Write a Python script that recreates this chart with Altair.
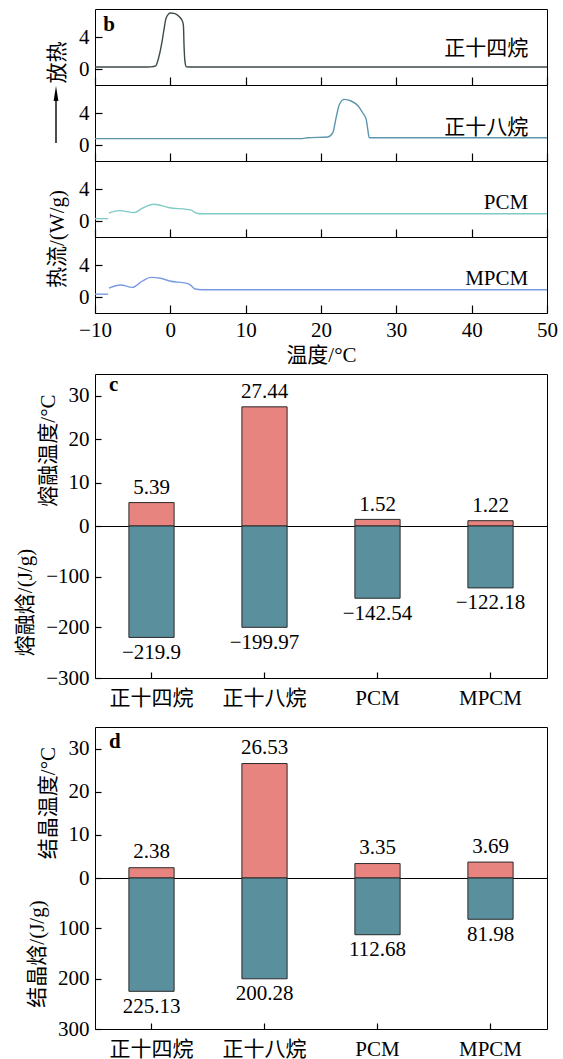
import altair as alt
import pandas as pd

# ---------------- data ----------------
# DSC curves (temperature / heat flow)
c14_T = [-10, -3.0, -2.6, -1.94, -1.5, -1.05, -0.84, -0.61, -0.3, -0.04, 0.5, 1.16, 1.6, 1.74, 1.82, 1.96, 2.14, 2.5, 50]
c14_H = [0.25, 0.25, 0.27, 0.4, 1.6, 3.7, 4.95, 6.2, 6.8, 7.0, 6.95, 6.55, 6.0, 5.4, 2.9, 0.8, 0.27, 0.25, 0.25]

c18_T = [-10, 17.5, 18.2, 20.9, 21.57, 22.0, 22.45, 23.1, 24.0, 24.9, 25.55, 26.0, 26.2, 26.4, 26.7, 50]
c18_H = [0.8, 0.8, 0.9, 1.0, 1.54, 3.4, 5.1, 5.7, 5.5, 4.9, 4.0, 3.2, 2.0, 0.92, 0.9, 0.9]

pcm_a_T = [-10, -8.25]
pcm_a_H = [0.3, 0.3]
pcm_b_T = [-8.15, -6.7, -4.8, -3.7, -2.2, -0.1, 2.2, 2.8, 3.3, 4.0, 50]
pcm_b_H = [1.0, 1.3, 1.05, 1.6, 2.1, 1.65, 1.45, 1.35, 1.05, 0.9, 0.9]

mpcm_a_T = [-10, -8.25]
mpcm_a_H = [0.35, 0.35]
mpcm_b_T = [-8.15, -6.6, -5.05, -3.7, -2.6, -1.3, -0.1, 2.2, 2.6, 3.3, 4.2, 50]
mpcm_b_H = [1.1, 1.5, 1.2, 2.0, 2.45, 2.35, 2.0, 1.7, 1.55, 1.0, 0.9, 0.9]

curve_names = ["正十四烷", "正十八烷", "PCM", "MPCM"]

# bar data
categories = ["正十四烷", "正十八烷", "PCM", "MPCM"]
melt_temp = [5.39, 27.44, 1.52, 1.22]
melt_enth = [-219.9, -199.97, -142.54, -122.18]
cryst_temp = [2.38, 26.53, 3.35, 3.69]
cryst_enth = [225.13, 200.28, 112.68, 81.98]

# ---------------- style ----------------
SERIF = "'Liberation Serif', 'Noto Sans CJK SC', serif"
FS = 21
W = 452
RED = "#e8847f"
TEAL = "#5a909e"
C14 = "#3d4a4a"
C18 = "#5c96ab"
CPCM = "#7fcbc6"
CMPCM = "#7a9be3"


def fmt(v):
    return f"{v}".replace("-", "\u2212")


def dsc_panel(segs, color, name, name_y, bottom=False, ytitle=None, ytitle_y=None, letter=False, arrow=False):
    rows = []
    for i, (ts, hs) in enumerate(segs):
        for t, h in zip(ts, hs):
            rows.append({"T": t, "H": h, "seg": i})
    df = pd.DataFrame(rows)

    xk = dict(values=list(range(-10, 51, 10)), offset=-8, tickSize=8, domain=False,
              grid=False, labels=bottom, labelFlush=False, labelPadding=6,
              labelAngle=0, titlePadding=4)
    xk["title"] = "温度/°C" if bottom else None
    yk = dict(values=[0, 4], offset=-7, tickSize=7, domain=False, grid=False,
              labelPadding=6, labelFlush=False, titlePadding=11)
    if ytitle:
        yk["title"] = ytitle
        yk["titleY"] = ytitle_y
    else:
        yk["title"] = None

    x = alt.X("T:Q", scale=alt.Scale(domain=[-10, 50], nice=False, zero=False), axis=alt.Axis(**xk))
    y = alt.Y("H:Q", scale=alt.Scale(domain=[-2, 7.5], nice=False, zero=False), axis=alt.Axis(**yk))

    line = alt.Chart(df).mark_line(color=color, strokeWidth=1.4, interpolate="monotone").encode(
        x=x, y=y, detail="seg:N")
    lab = alt.Chart(pd.DataFrame({"T": [47.5], "H": [name_y], "t": [name]})).mark_text(
        align="right", baseline="middle", font=SERIF, fontSize=FS, color="black").encode(
        x=x, y=y, text="t:N")
    layers = [line, lab]
    if letter:
        layers.append(alt.Chart(pd.DataFrame({"T": [-8.9], "H": [4.75], "t": ["b"]})).mark_text(
            align="left", baseline="alphabetic", font=SERIF, fontSize=FS, fontWeight="bold",
            color="black").encode(x=x, y=y, text="t:N"))
    if arrow:
        one = pd.DataFrame({"a": [0]})
        layers.append(alt.Chart(one).mark_rule(color="black", strokeWidth=1.4).encode(
            x=alt.value(-39), y=alt.value(58), y2=alt.value(14)))
        layers.append(alt.Chart(one).mark_point(
            shape="M0,-1L0.32,1L-0.32,1Z", filled=True, color="black", size=225, opacity=1).encode(
            x=alt.value(-39), y=alt.value(8.5)))
    return alt.layer(*layers).properties(width=W, height=76)


b1 = dsc_panel([(c14_T, c14_H)], C14, curve_names[0], 2.45, ytitle="放热", ytitle_y=53, letter=True)
b2 = dsc_panel([(c18_T, c18_H)], C18, curve_names[1], 2.1, arrow=True)
b3 = dsc_panel([(pcm_a_T, pcm_a_H), (pcm_b_T, pcm_b_H)], CPCM, curve_names[2], 2.3,
               ytitle="热流/(W/g)", ytitle_y=77.5)
b4 = dsc_panel([(mpcm_a_T, mpcm_a_H), (mpcm_b_T, mpcm_b_H)], CMPCM, curve_names[3], 2.2, bottom=True)


def bar_half(vals, domain, reverse, height, color, yvals, ytitle, bottom, dy, letter=None, letter_y=None):
    df = pd.DataFrame({"cat": categories, "v": vals, "lab": [fmt(v) for v in vals]})
    if bottom:
        xaxis = alt.Axis(offset=-6, tickSize=6, domain=False, grid=False, labelPadding=9,
                         labelAngle=0, title=None)
    else:
        xaxis = None
    x = alt.X("cat:N", sort=categories, scale=alt.Scale(paddingInner=0.6, paddingOuter=0.3), axis=xaxis)
    y = alt.Y("v:Q", scale=alt.Scale(domain=domain, nice=False, zero=False, reverse=reverse),
              axis=alt.Axis(values=yvals, offset=-6, tickSize=6, domain=False, grid=False,
                            labelPadding=6, labelFlush=False, title=ytitle, titlePadding=10))
    base = alt.Chart(df)
    bars = base.mark_bar(color=color, stroke="#2a2a2a", strokeWidth=1).encode(x=x, y=y, y2=alt.datum(0))
    txt = base.mark_text(dy=dy, baseline="middle", font=SERIF, fontSize=FS, color="black").encode(
        x=x, y=y, text="lab:N")
    layers = [bars, txt]
    if letter:
        layers.append(alt.Chart(pd.DataFrame({"v": [letter_y], "t": [letter]})).mark_text(
            align="left", baseline="alphabetic", font=SERIF, fontSize=FS, fontWeight="bold",
            color="black").encode(x=alt.value(14), y=alt.Y("v:Q", scale=alt.Scale(domain=domain, nice=False, zero=False, reverse=reverse)), text="t:N"))
    return alt.layer(*layers).properties(width=W, height=height)


c1 = bar_half(melt_temp, [0, 35], False, 152, RED, [0, 10, 20, 30], "熔融温度/°C", False, -14.5, "c", 31.1)
c2 = bar_half(melt_enth, [-300, 0], False, 152, TEAL, [-300, -200, -100], "熔融焓/(J/g)", True, 15.5)
d1 = bar_half(cryst_temp, [0, 35], False, 151, RED, [0, 10, 20, 30], "结晶温度/°C", False, -15.5, "d", 30.1)
d2 = bar_half(cryst_enth, [0, 300], True, 151, TEAL, [100, 200, 300], "结晶焓/(J/g)", True, 15.5)

panel_b = alt.vconcat(b1, b2, b3, b4, spacing=0, bounds="flush")
panel_c = alt.vconcat(c1, c2, spacing=0, bounds="flush")
panel_d = alt.vconcat(d1, d2, spacing=0, bounds="flush")

chart = alt.vconcat(
    alt.vconcat(panel_b, panel_c, spacing=7),
    panel_d, spacing=17,
).properties(
    padding={"left": 14, "top": 8, "right": 4, "bottom": 0},
    background="white",
).configure_view(
    stroke="black", strokeWidth=1
).configure_axis(
    labelFont=SERIF, labelFontSize=FS, labelColor="black",
    titleFont=SERIF, titleFontSize=FS, titleFontWeight="normal", titleColor="black",
    tickColor="black", tickWidth=1.2, grid=False, domain=False, labelOverlap=False,
)

chart.save("out.html", embed_options={"renderer": "svg", "actions": False})
